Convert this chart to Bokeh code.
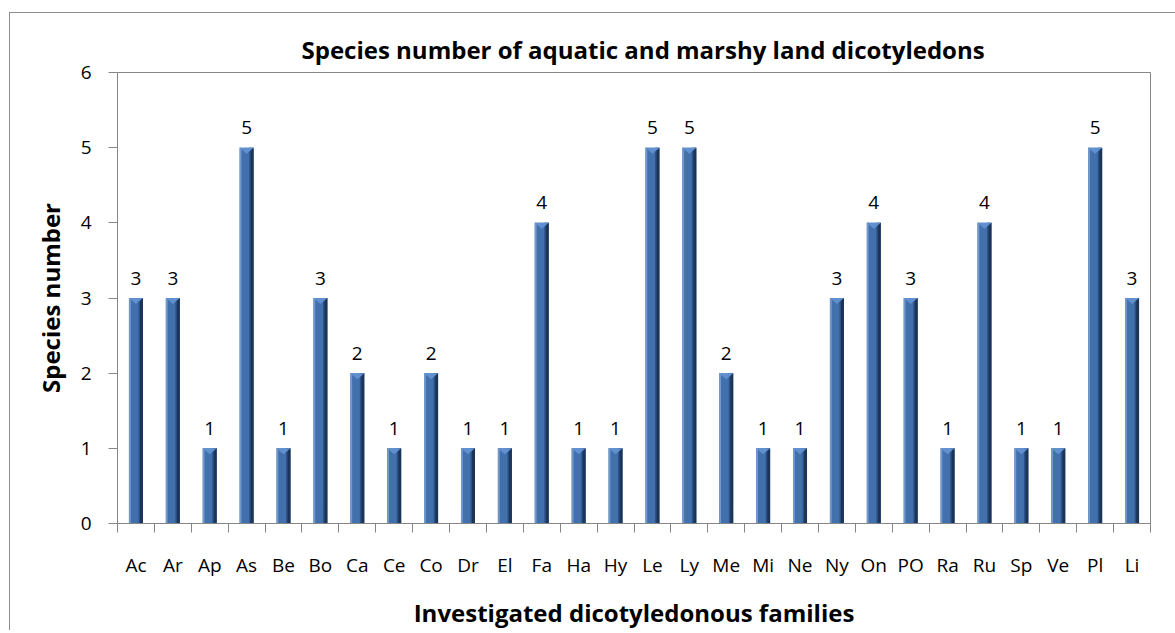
from bokeh.plotting import figure
from bokeh.models import ColumnDataSource, FixedTicker, Range1d
from bokeh.transform import dodge
from bokeh.core.properties import value
from bokeh.embed import file_html
from bokeh.resources import INLINE

families = ["Ac", "Ar", "Ap", "As", "Be", "Bo", "Ca", "Ce", "Co", "Dr", "El", "Fa", "Ha", "Hy",
            "Le", "Ly", "Me", "Mi", "Ne", "Ny", "On", "PO", "Ra", "Ru", "Sp", "Ve", "Pl", "Li"]
species = [3, 3, 1, 5, 1, 3, 2, 1, 2, 1, 1, 4, 1, 1, 5, 5, 2, 1, 1, 3, 4, 3, 1, 4, 1, 1, 5, 3]
y_ticks = [0, 1, 2, 3, 4, 5, 6]

FONT = "Open Sans"
n = len(families)
xpos = [i + 0.5 for i in range(n)]
bar_w = 0.38
tri_h = 0.08

src = ColumnDataSource(dict(x=xpos, v=species, lab=[str(s) for s in species]))

tri_xs = [[x - bar_w / 2, x + bar_w / 2, x] for x in xpos]
tri_ys = [[s, s, s - tri_h] if s > 0 else [0, 0, 0] for s in species]

p = figure(width=1170, height=618, output_backend="svg", toolbar_location=None,
           x_range=Range1d(0, n), y_range=Range1d(0, 6),
           min_border_left=107, min_border_right=30, min_border_top=59, min_border_bottom=97,
           title="Species number of aquatic and marshy land dicotyledons")
p.styles = {"border-top": "1px solid #8C8C8C", "border-left": "1px solid #8C8C8C",
            "margin-left": "9px", "margin-top": "12px"}

p.background_fill_color = "white"
p.border_fill_color = "white"
p.outline_line_color = "#868686"
p.outline_line_width = 1
p.grid.visible = False

p.title.text_font = FONT
p.title.text_font_size = "24px"
p.title.text_font_style = "bold"
p.title.align = "left"
p.title.offset = 184
p.title.text_color = "black"
p.title.standoff = 14

p.vbar(x="x", top="v", width=bar_w, bottom=0, source=src, fill_color="#4170AD", line_color=None)
p.vbar(x=dodge("x", -bar_w / 2 + 0.025, range=p.x_range), top="v", width=0.05, bottom=0, source=src,
       fill_color="#7399CC", line_color=None)
p.vbar(x=dodge("x", bar_w / 2 - 0.095, range=p.x_range), top="v", width=0.05, bottom=0, source=src,
       fill_color="#2C5285", line_color=None)
p.vbar(x=dodge("x", bar_w / 2 - 0.04, range=p.x_range), top="v", width=0.08, bottom=0, source=src,
       fill_color="#1C3455", line_color=None)
p.patches(tri_xs, tri_ys, fill_color="#6090D0", line_color=None)

p.text(x="x", y="v", text="lab", source=src, text_align="center", text_baseline="alphabetic",
       y_offset=-20, text_font=value(FONT), text_font_size="19px", text_color="black")

xa = p.xaxis[0]
xa.ticker = FixedTicker(ticks=xpos, minor_ticks=list(range(n + 1)))
xa.major_label_overrides = {x: f for x, f in zip(xpos, families)}
xa.major_tick_out = 0
xa.major_tick_in = 0
xa.minor_tick_out = 9
xa.minor_tick_in = 0
xa.minor_tick_line_color = "#868686"
xa.axis_line_color = "#868686"
xa.major_label_standoff = 19
xa.major_label_text_font = FONT
xa.major_label_text_font_size = "19px"
xa.major_label_text_color = "black"
xa.axis_label = "Investigated dicotyledonous families"
xa.axis_label_text_font = FONT
xa.axis_label_text_font_size = "24px"
xa.axis_label_text_font_style = "bold"
xa.axis_label_standoff = 15
xa.axis_label_text_color = "black"

ya = p.yaxis[0]
ya.ticker = FixedTicker(ticks=y_ticks)
ya.minor_tick_line_color = None
ya.major_tick_out = 9
ya.major_tick_in = 0
ya.major_tick_line_color = "#868686"
ya.axis_line_color = "#868686"
ya.major_label_standoff = 17
ya.major_label_text_font = FONT
ya.major_label_text_font_size = "19px"
ya.major_label_text_color = "black"
ya.axis_label = "Species number"
ya.axis_label_text_font = FONT
ya.axis_label_text_font_size = "24px"
ya.axis_label_text_font_style = "bold"
ya.axis_label_standoff = 11
ya.axis_label_text_color = "black"

html = file_html(p, INLINE)
html = html.replace("<head>", "<head><style>html, body { overflow: hidden; }</style>", 1)
open("out.html", "w").write(html)
